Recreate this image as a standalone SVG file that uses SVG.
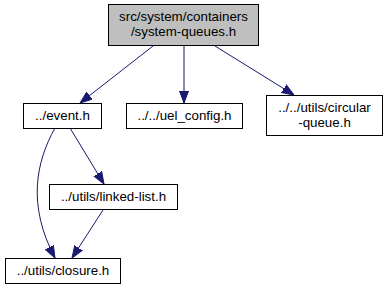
<svg xmlns="http://www.w3.org/2000/svg" width="387" height="291" viewBox="0 0 387 291">
  <defs>
    <style>
      .node rect { fill: #ffffff; stroke: #000000; stroke-width: 1; }
      .node.root rect { fill: #bfbfbf; }
      .node text { font-family: "Liberation Sans", Helvetica, Arial, sans-serif; font-size: 13.33px; fill: #000000; text-anchor: middle; }
      .edge { fill: none; stroke: #191970; stroke-width: 1; marker-end: url(#arrow); }
    </style>
    <marker id="arrow" markerUnits="userSpaceOnUse" markerWidth="13" markerHeight="11" refX="12" refY="5" orient="auto" viewBox="0 0 13 10">
      <path d="M0,0.5 L12,5 L0,9.5 Z" fill="#191970" stroke="#191970" stroke-width="1"/>
    </marker>
  </defs>

  <rect width="387" height="291" fill="#ffffff"/>

  <!-- include edges -->
  <g id="edges">
    <path class="edge" d="M153,46 L80,103"/>
    <path class="edge" d="M184,46 L184,103"/>
    <path class="edge" d="M215,46 L294,95"/>
    <path class="edge" d="M70,128 L104,184"/>
    <path class="edge" d="M55,128 C36,162 27,205 55,258"/>
    <path class="edge" d="M103,210 L72,258"/>
  </g>

  <g id="node1" class="node root">
    <rect x="108.5" y="4.5" width="150" height="41"/>
    <text x="183.5" y="21">src/system/containers</text>
    <text x="183.5" y="36">/system-queues.h</text>
  </g>

  <g id="node2" class="node">
    <rect x="23.5" y="103.5" width="78" height="25"/>
    <text x="62.5" y="120">../event.h</text>
  </g>

  <g id="node3" class="node">
    <rect x="126.5" y="103.5" width="116" height="25"/>
    <text x="184.5" y="120">../../uel_config.h</text>
  </g>

  <g id="node4" class="node">
    <rect x="266.5" y="95.5" width="116" height="40"/>
    <text x="324.5" y="112">../../utils/circular</text>
    <text x="324.5" y="127">-queue.h</text>
  </g>

  <g id="node5" class="node">
    <rect x="49.5" y="184.5" width="128" height="25"/>
    <text x="113.5" y="201">../utils/linked-list.h</text>
  </g>

  <g id="node6" class="node">
    <rect x="5.5" y="258.5" width="115" height="25"/>
    <text x="63" y="275">../utils/closure.h</text>
  </g>
</svg>
